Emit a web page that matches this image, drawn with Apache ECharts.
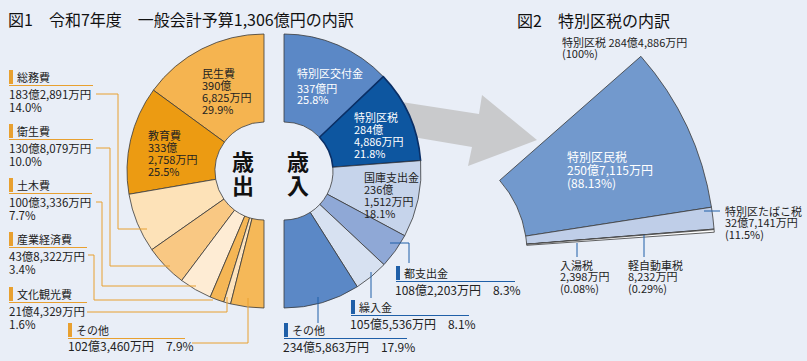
<!DOCTYPE html>
<html><head><meta charset="utf-8">
<script src="https://cdn.jsdelivr.net/npm/echarts@6/dist/echarts.min.js"></script>
<style>html,body{margin:0;padding:0;background:#e9eef7}#c{width:807px;height:361px}</style>
</head><body><div id="c"></div>
<script>
// ---------- DATA (amounts in 万円) ----------
const expenseNames  = ['民生費','教育費','総務費','衛生費','土木費','産業経済費','文化観光費','その他'];
const expenseValues = [3906825, 3332758, 1832891, 1308079, 1003336, 438322, 214329, 1023460];
const expensePct    = ['29.9%','25.5%','14.0%','10.0%','7.7%','3.4%','1.6%','7.9%'];

const revenueNames  = ['特別区交付金','特別区税','国庫支出金','都支出金','繰入金','その他'];
const revenueValues = [3370000, 2844886, 2361512, 1082203, 1055536, 2345863];
const revenuePct    = ['25.8%','21.8%','18.1%','8.3%','8.1%','17.9%'];

const taxNames  = ['特別区民税','特別区たばこ税','軽自動車税','入湯税'];
const taxValues = [2507115, 327141, 8232, 2398];
const taxPct    = ['(88.13%)','(11.5%)','(0.29%)','(0.08%)'];
const taxTotalLabel = '特別区税';
const taxTotalPct = '(100%)';

const title1 = '図1　令和7年度　一般会計予算1,306億円の内訳';
const title2 = '図2　特別区税の内訳';

// ---------- STYLE / LAYOUT ----------
const FONT = '"Noto Sans CJK JP","Noto Sans",sans-serif';
const expenseColors = ['#f5b450','#ec9b12','#fde2b8','#f9c883','#feecd4','#f5b655','#fde3bd','#f5b858'];
const revenueColors = ['#5b88c6','#0d56a0','#c6d4eb','#8fa8d6','#d7e1f1','#5b88c6'];
const taxColors = ['#7299cd','#bfcee8','#f7f9fd','#ffffff'];
const ORANGE = '#e8a030', BLUE = '#1f5fa8';

function fmtAmount(v){
  const oku = Math.floor(v/10000), man = v % 10000;
  let s = oku > 0 ? oku + '億' : '';
  s += man > 0 ? man.toLocaleString('en-US') + '万円' : '円';
  return s;
}
function fmtSplit(v){
  const oku = Math.floor(v/10000), man = v % 10000;
  return man > 0 ? oku + '億\n' + man.toLocaleString('en-US') + '万円' : oku + '億円';
}

const g = [];
function text(x, y, str, opt){
  g.push({type:'text', x:x, y:y, z:20, style:Object.assign({text:str, font:'11px '+FONT, fill:'#222', textVerticalAlign:'top'}, opt||{})});
}
function line(pts, color){
  g.push({type:'polyline', z:15, shape:{points:pts}, style:{stroke:color, lineWidth:1, fill:null}});
}
function tag(x, yName, xEnd, name, color){
  g.push({type:'rect', z:15, shape:{x:x, y:yName-7, width:4, height:14}, style:{fill:color}});
  text(x+8, yName, name, {textVerticalAlign:'middle', font:'11px '+FONT});
  line([[x, yName+8.5],[xEnd, yName+8.5]], color);
}

// titles
text(8, 19, title1, {font:'16px '+FONT, fill:'#111', textVerticalAlign:'middle'});
text(517, 20, title2, {font:'16px '+FONT, fill:'#111', textVerticalAlign:'middle'});

// arrow (behind)
g.push({type:'polygon', z:0, shape:{points:[[395,101],[479,114],[482,95],[537,140],[468,166],[472,147],[395,134]]}, style:{fill:'#c9cacc'}});

// center texts
text(243, 172, '歳\n出', {font:'bold 22px '+FONT, fill:'#111', textAlign:'center', textVerticalAlign:'middle', lineHeight:24});
text(298, 172, '歳\n入', {font:'bold 22px '+FONT, fill:'#111', textAlign:'center', textVerticalAlign:'middle', lineHeight:24});

// inner labels fig1
const expInner = {0:[202,67], 1:[148,129]};
Object.keys(expInner).forEach(k=>{
  const i=+k; text(expInner[k][0], expInner[k][1], expenseNames[i]+'\n'+fmtSplit(expenseValues[i])+'\n'+expensePct[i], {lineHeight:12, fill:'#222'});
});
text(297, 64, '{n|'+revenueNames[0]+'}\n{v|'+fmtSplit(revenueValues[0])+'}\n{v|'+revenuePct[0]+'}',
  {fill:'#fff', rich:{n:{font:'11px '+FONT, fill:'#fff', lineHeight:18}, v:{font:'11px '+FONT, fill:'#fff', lineHeight:11.5}}});
text(354, 111, revenueNames[1]+'\n'+fmtSplit(revenueValues[1])+'\n'+revenuePct[1], {lineHeight:12, fill:'#fff'});
text(364, 171, revenueNames[2]+'\n'+fmtSplit(revenueValues[2])+'\n'+revenuePct[2], {lineHeight:12, fill:'#222'});

// external labels, left (expense)
const leftTags = [
  {i:2, y:77, xe:93, lead:[[96,94],[118,94],[118,229],[147,229]]},
  {i:3, y:131, xe:93, lead:[[96,148],[110,148],[110,266],[170,266]]},
  {i:4, y:185, xe:92, lead:[[96,202],[102,202],[102,286],[196,286]]},
  {i:5, y:239, xe:87, lead:[[88,255],[94,255],[94,300],[213,300]]},
  {i:6, y:294, xe:87, lead:[[87,312],[227,312],[227,297]]}
];
leftTags.forEach(t=>{
  tag(9, t.y, t.xe, expenseNames[t.i], ORANGE);
  text(9, t.y+11, fmtAmount(expenseValues[t.i])+'\n'+expensePct[t.i], {font:'11.5px '+FONT, lineHeight:12.5});
  line(t.lead, ORANGE);
});
tag(68, 330, 185, expenseNames[7], ORANGE);
text(68, 339, fmtAmount(expenseValues[7])+'　'+expensePct[7], {font:'12px '+FONT});
line([[192,343],[248,343],[248,298]], ORANGE);

// external labels, right (revenue)
const rightTags = [
  {i:3, x:396, y:273, xe:515, lead:[[390,243],[409,243],[409,263]]},
  {i:4, x:351, y:307, xe:469, lead:[[371,272],[371,298]]},
  {i:5, x:284, y:330, xe:407, lead:[[318,297],[318,323]]}
];
rightTags.forEach(t=>{
  tag(t.x, t.y, t.xe, revenueNames[t.i], BLUE);
  text(t.x-1, t.y+10, fmtAmount(revenueValues[t.i])+'　'+revenuePct[t.i], {font:'12px '+FONT});
  line(t.lead, BLUE);
});

// fig2 labels
const taxTotal = taxValues.reduce((a,b)=>a+b,0);
text(562, 36, taxTotalLabel+' '+fmtAmount(taxTotal)+'\n'+taxTotalPct, {lineHeight:11.5});
text(567, 150, taxNames[0]+'\n'+fmtAmount(taxValues[0])+'\n'+taxPct[0], {font:'12px '+FONT, lineHeight:13, fill:'#fff'});
text(725, 205, taxNames[1]+'\n'+fmtAmount(taxValues[1])+'\n'+taxPct[1], {lineHeight:11.5});
line([[704,211],[720,211]], BLUE);
text(628, 259, taxNames[2]+'\n'+fmtAmount(taxValues[2])+'\n'+taxPct[2], {lineHeight:11.5});
line([[644,235],[644,257]], BLUE);
text(560, 259, taxNames[3]+'\n'+fmtAmount(taxValues[3])+'\n'+taxPct[3], {lineHeight:11.5});
line([[577,243],[577,257]], BLUE);

const pieBase = {type:'pie', silent:true, animation:false, avoidLabelOverlap:false,
  label:{show:false}, labelLine:{show:false}};

const chart = echarts.init(document.getElementById('c'), null, {renderer:'svg', width:807, height:361});
chart.setOption({
  backgroundColor:'#e9eef7',
  animation:false,
  graphic: g,
  series:[
    Object.assign({}, pieBase, {
      center:[264,171], radius:[49,137], startAngle:90, endAngle:270, clockwise:false,
      itemStyle:{borderColor:'#3a3a3a', borderWidth:0.8},
      data: expenseNames.map((n,i)=>({name:n, value:expenseValues[i], itemStyle:{color:expenseColors[i]}}))
    }),
    Object.assign({}, pieBase, {
      center:[284,171], radius:[49,137], startAngle:90, endAngle:-90, clockwise:true,
      itemStyle:{borderColor:'#3a3a3a', borderWidth:0.8},
      data: revenueNames.map((n,i)=>({name:n, value:revenueValues[i],
        itemStyle: i===1 ? {color:revenueColors[i], borderColor:'#0a2f66', borderWidth:1.6} : {color:revenueColors[i]}}))
    }),
    Object.assign({}, pieBase, {
      center:[417,253], radius:[110,298], startAngle:41.3, endAngle:4, clockwise:true, minAngle:0.5,
      itemStyle:{borderColor:'#3a3a3a', borderWidth:0.8},
      data: taxNames.map((n,i)=>({name:n, value:taxValues[i], itemStyle:{color:taxColors[i]}}))
    })
  ]
});
</script></body></html>
